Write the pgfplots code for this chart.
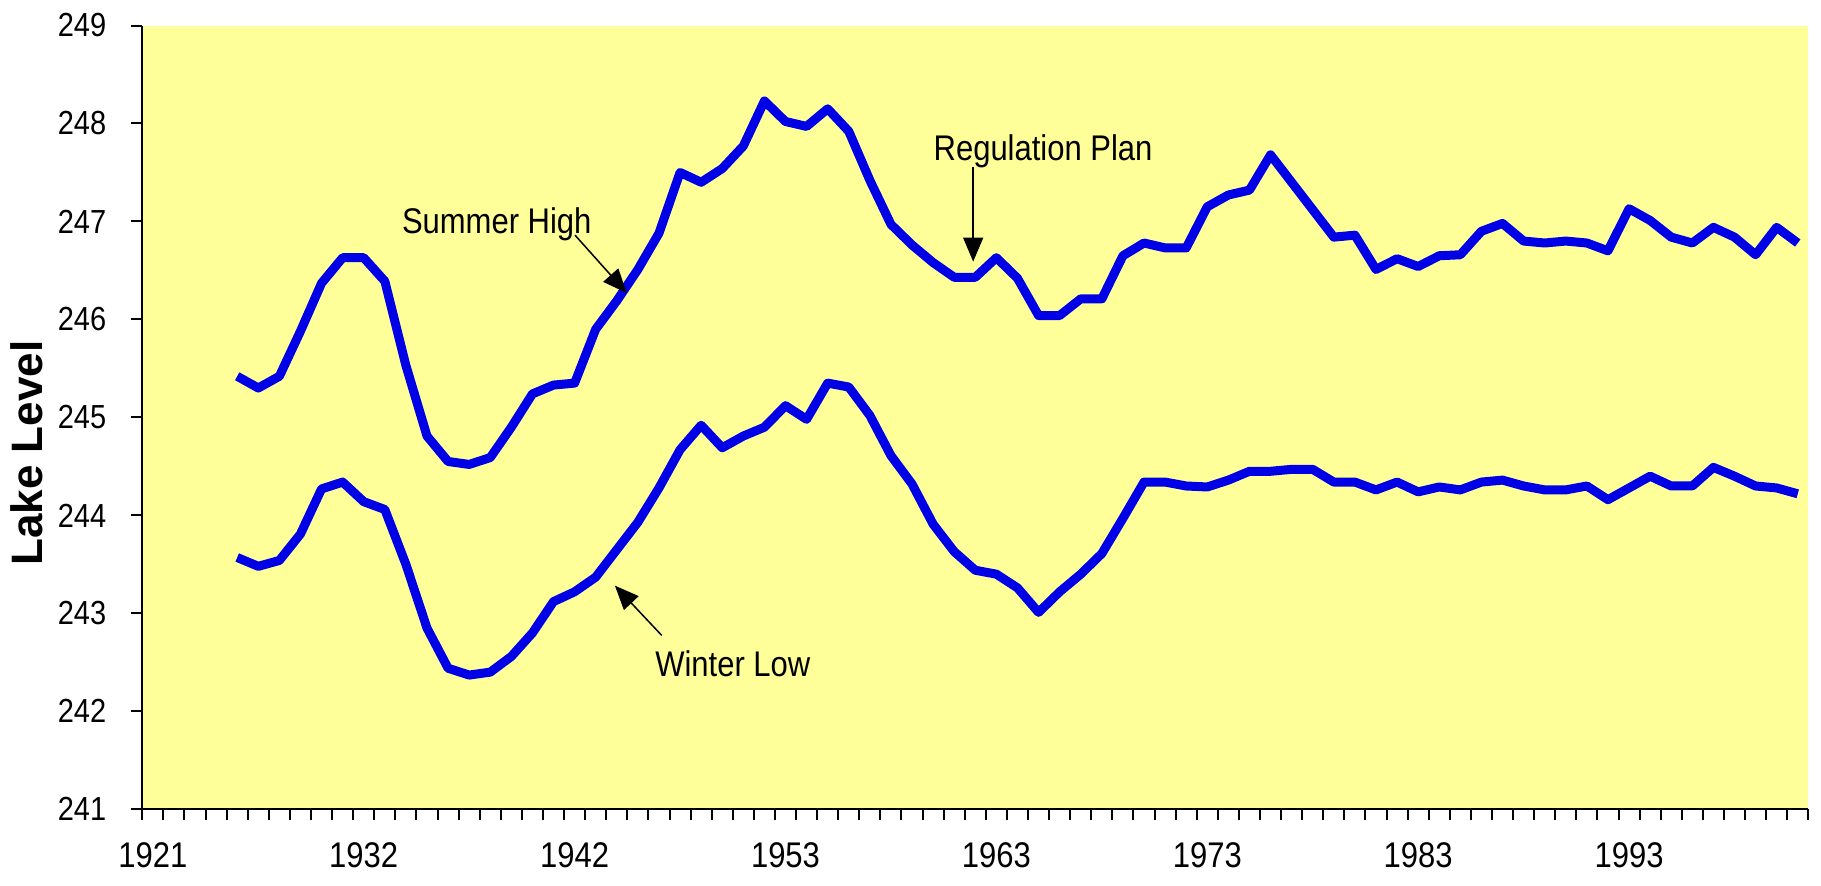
\documentclass[border=0pt]{standalone}
\usepackage{pgfplots}
\pgfplotsset{compat=1.18}
\usepackage{pgfplotstable}
\usepackage{fontspec}
\setmainfont{Liberation Sans}
\usetikzlibrary{arrows.meta}
\definecolor{bg}{HTML}{FFFF99}
\definecolor{lineblue}{RGB}{0,0,230}

\pgfplotstableread{
i summer winter
4 245.42 243.57
5 245.30 243.48
6 245.42 243.54
7 245.88 243.81
8 246.37 244.27
9 246.63 244.34
10 246.63 244.14
11 246.39 244.06
12 245.53 243.50
13 244.81 242.85
14 244.55 242.44
15 244.52 242.37
16 244.59 242.40
17 244.90 242.56
18 245.24 242.80
19 245.33 243.12
20 245.35 243.22
21 245.90 243.37
22 246.19 243.65
23 246.51 243.93
24 246.88 244.28
25 247.50 244.67
26 247.40 244.92
27 247.54 244.69
28 247.77 244.81
29 248.23 244.90
30 248.02 245.12
31 247.97 244.98
32 248.15 245.35
33 247.92 245.31
34 247.42 245.02
35 246.97 244.61
36 246.76 244.32
37 246.58 243.91
38 246.43 243.63
39 246.43 243.44
40 246.63 243.40
41 246.42 243.26
42 246.04 243.01
43 246.04 243.22
44 246.21 243.40
45 246.21 243.61
46 246.65 243.97
47 246.78 244.34
48 246.73 244.34
49 246.73 244.30
50 247.15 244.29
51 247.27 244.36
52 247.32 244.45
53 247.68 244.45
54 247.40 244.47
55 247.12 244.47
56 246.84 244.34
57 246.86 244.34
58 246.51 244.26
59 246.62 244.34
60 246.54 244.24
61 246.65 244.29
62 246.66 244.26
63 246.90 244.34
64 246.98 244.36
65 246.80 244.30
66 246.78 244.26
67 246.80 244.26
68 246.78 244.30
69 246.70 244.16
70 247.13 244.28
71 247.01 244.40
72 246.84 244.30
73 246.78 244.30
74 246.94 244.49
75 246.84 244.40
76 246.66 244.30
77 246.94 244.28
78 246.78 244.22
}\datatable

\begin{document}
\begin{tikzpicture}
\path[use as bounding box] (-71.15pt,-37.85pt) rectangle (839.35pt,404.65pt);
\begin{axis}[
  at={(0,0)}, anchor=south west,
  scale only axis, width=833pt, height=391.9pt,
  xmin=-0.5, xmax=78.5, ymin=241, ymax=249,
  axis x line*=bottom, axis y line*=left,
  axis line style={black, line width=1pt},
  axis background/.style={fill=bg},
  tick align=outside,
  major tick length=5.5pt,
  tick style={black, line width=1pt},
  xtick={-0.5,0.5,...,78.5},
  xticklabels={},
  extra x ticks={0,10,20,30,40,50,60,70},
  extra x tick labels={1921,1932,1942,1953,1963,1973,1983,1993},
  extra x tick style={major tick length=0pt},
  ytick={241,242,...,249},
  /pgf/number format/assume math mode=true,
  /pgf/number format/1000 sep={},
  xticklabel style={font=\fontsize{15.5}{15.5}\selectfont, anchor=base, yscale=1.15, yshift=-25.5pt},
  yticklabel style={font=\fontsize{14.5}{14.5}\selectfont, anchor=east, yscale=1.15, xshift=-9pt},
  ylabel={Lake Level},
  ylabel style={at={(axis description cs:-0.0692,0.4546)}, anchor=center, font=\bfseries\fontsize{22}{22}\selectfont},
  clip=false,
]
\addplot[lineblue, line width=4.5pt, line join=round] table[x=i, y=summer]{\datatable};
\addplot[lineblue, line width=4.5pt, line join=round] table[x=i, y=winter]{\datatable};

\node[anchor=base west, font=\fontsize{15.5}{15.5}\selectfont, yscale=1.15] at (axis cs:11.48,246.877) {Summer High};
\draw[line width=0.75pt, -{Triangle[length=12pt,width=10pt]}] (axis cs:20.02,246.86) -- (axis cs:22.47,246.27);

\node[anchor=base west, font=\fontsize{15.5}{15.5}\selectfont, yscale=1.15] at (axis cs:36.69,247.62) {Regulation Plan};
\draw[line width=0.75pt, -{Triangle[length=12pt,width=10pt]}] (axis cs:38.9,247.56) -- (axis cs:38.9,246.59);

\node[anchor=base west, font=\fontsize{15.5}{15.5}\selectfont, yscale=1.15] at (axis cs:23.49,242.36) {Winter Low};
\draw[line width=0.75pt, -{Triangle[length=12pt,width=10pt]}] (axis cs:24.13,242.775) -- (axis cs:21.91,243.283);
\end{axis}
\end{tikzpicture}
\end{document}
